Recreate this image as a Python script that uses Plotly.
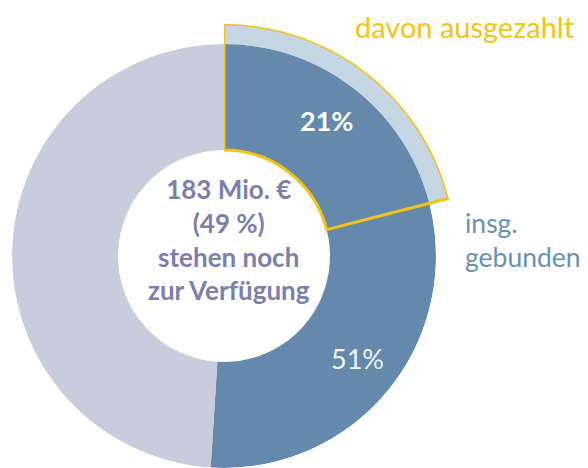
import plotly.graph_objects as go

# ── Data ──────────────────────────────────────────────────────────────────────
segments = ["insg. gebunden", "verfügbar"]
shares = [51, 49]                 # percent of the budget
paid_share = 21                   # "davon ausgezahlt", percent
center_lines = ["183 Mio. €", "(49 %)", "stehen noch", "zur Verfügung"]

# ── Style ─────────────────────────────────────────────────────────────────────
BLUE = "#6489ad"
LIGHT = "#c9ccdc"
PAID_FILL = "#c6d5e2"
YELLOW = "#f3c418"
CENTER_TXT = "#7a7fac"
FONT = "Lato, sans-serif"

W, H = 588, 468
CX, CY, R = 216, 248, 212          # donut centre / outer radius (px, figure coords)
HOLE_R, PAID_R = 106, 232


def _deg(p):
    return p * 360 / 100


def _px(x, y):
    """figure pixel -> paper fraction"""
    return x / W, (H - y) / H


# angular positions from the shares
starts = [0, _deg(shares[0])]
widths = [_deg(s) for s in shares]
centers = [s + w / 2 for s, w in zip(starts, widths)]

paid_theta = [_deg(paid_share) / 2]
paid_width = [_deg(paid_share)]

fig = go.Figure()

# paid-out sector fill (behind, sticks out past the donut)
fig.add_trace(go.Barpolar(
    r=[PAID_R - HOLE_R], base=[HOLE_R], theta=paid_theta, width=paid_width,
    marker=dict(color=PAID_FILL, line=dict(width=0)),
    hoverinfo="skip", showlegend=False, subplot="polar",
))

# main donut
fig.add_trace(go.Barpolar(
    r=[R - HOLE_R] * 2, base=[HOLE_R] * 2, theta=centers, width=widths,
    marker=dict(color=[BLUE, LIGHT], line=dict(width=0)),
    text=segments, hoverinfo="text", showlegend=False, subplot="polar2",
))

# yellow outline of the paid-out sector on top
fig.add_trace(go.Barpolar(
    r=[PAID_R - HOLE_R], base=[HOLE_R], theta=paid_theta, width=paid_width,
    marker=dict(color="rgba(0,0,0,0)", line=dict(color=YELLOW, width=3)),
    hoverinfo="skip", showlegend=False, subplot="polar3",
))

quad = dict(
    domain=dict(x=[CX / W, (CX + PAID_R) / W],
                y=[(H - CY) / H, (H - CY + PAID_R) / H]),
    sector=[0, 90],
    bgcolor="rgba(0,0,0,0)",
    radialaxis=dict(range=[0, PAID_R], visible=False),
    angularaxis=dict(rotation=90, direction="clockwise", visible=False),
)

fig.update_layout(
    width=W, height=H,
    margin=dict(l=0, r=0, t=0, b=0),
    paper_bgcolor="white",
    polar=quad,
    polar2=dict(
        domain=dict(x=[(CX - R) / W, (CX + R) / W],
                    y=[(H - CY - R) / H, (H - CY + R) / H]),
        bgcolor="rgba(0,0,0,0)",
        radialaxis=dict(range=[0, R], visible=False),
        angularaxis=dict(rotation=90, direction="clockwise", visible=False),
    ),
    polar3=quad,
)

annots = [
    ("<br>".join(center_lines), 221, 231, "center",
     dict(size=26, color=CENTER_TXT, weight="bold")),
    (f"{paid_share}%", 318, 112, "center",
     dict(size=27, color="white", weight="bold")),
    (f"{shares[0]}%", 349, 350, "center", dict(size=27, color="#f2f4f7")),
    ("davon ausgezahlt", 457, 19, "center", dict(size=29, color=YELLOW)),
    ("insg.<br>gebunden", 455, 232, "left", dict(size=26.5, color="#6a8fb6")),
]
for text, x, y, anchor, font in annots:
    px, py = _px(x, y)
    fig.add_annotation(text=text, x=px, y=py, xref="paper", yref="paper",
                       showarrow=False, xanchor=anchor, yanchor="middle",
                       align=anchor, font=dict(family=FONT, **font))

fig.write_html("out.html")
